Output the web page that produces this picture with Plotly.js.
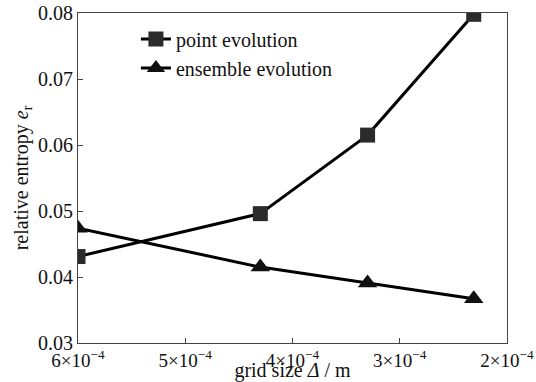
<!DOCTYPE html>
<html>
<head>
<meta charset="utf-8">
<script src="https://cdn.plot.ly/plotly-3.0.1.min.js"></script>
<style>
html,body{margin:0;padding:0;background:#fff;}
#chart{width:536px;height:382px;}
#preload{position:absolute;left:0;top:0;font-family:"Liberation Serif",serif;font-size:20px;color:#fff;opacity:0.01;pointer-events:none;}
</style>
</head>
<body>
<div id="preload">0123456789 point ensemble evolution ×−</div>
<div id="chart"></div>
<script>
const gridSize = [6.0e-4, 4.3e-4, 3.3e-4, 2.31e-4];
const pointEvolution = [0.0431, 0.0496, 0.0615, 0.0798];
const ensembleEvolution = [0.0474, 0.0415, 0.0391, 0.0367];
const xTickVals = [6e-4, 5e-4, 4e-4, 3e-4, 2e-4];
const xTickText = ['6×10<sup>−4</sup>', '5×10<sup>−4</sup>', '4×10<sup>−4</sup>', '3×10<sup>−4</sup>', '2×10<sup>−4</sup>'];
const yTickVals = [0.03, 0.04, 0.05, 0.06, 0.07, 0.08];
const yTickText = ['0.03', '0.04', '0.05', '0.06', '0.07', '0.08'];
const FAM = 'Liberation Serif, Times New Roman, serif';
const traces = [
  {x: gridSize, y: pointEvolution, name: 'point evolution', mode: 'lines+markers',
   line: {color: '#000', width: 3}, marker: {symbol: 'square', size: 15, color: '#2b2b2b'}},
  {x: gridSize, y: ensembleEvolution, name: 'ensemble evolution', mode: 'lines+markers',
   line: {color: '#000', width: 3}, marker: {symbol: 'triangle-up', size: 17, color: '#111'}}
];
const layout = {
  width: 536, height: 382, margin: {l: 78, r: 29, t: 13, b: 39},
  font: {family: FAM, color: '#111', size: 20}, showlegend: true,
  legend: {x: 0.135, y: 0.98, xanchor: 'left', yanchor: 'top', bgcolor: 'rgba(0,0,0,0)', font: {family: FAM, size: 20, color: '#111'}},
  xaxis: {range: [6e-4, 2e-4], tickmode: 'array', tickvals: xTickVals, ticktext: xTickText, ticks: 'inside', ticklen: 5,
    showline: true, mirror: true, linecolor: '#444', tickcolor: '#444', showgrid: false, zeroline: false,
    tickfont: {family: FAM, size: 19, color: '#111'}, title: {text: 'grid size <i>Δ</i> / m', font: {family: FAM, size: 20}}},
  yaxis: {range: [0.03, 0.08], tickmode: 'array', tickvals: yTickVals, ticktext: yTickText, ticks: 'inside', ticklen: 5,
    showline: true, mirror: true, linecolor: '#444', tickcolor: '#444', showgrid: false, zeroline: false,
    tickfont: {family: FAM, size: 20, color: '#111'}, title: {text: 'relative entropy <i>e</i><sub>r</sub>', font: {family: FAM, size: 20}}}
};
Plotly.newPlot('chart', traces, layout, {displayModeBar: false});
if (document.fonts && document.fonts.load) {
  document.fonts.load('20px "Liberation Serif"').then(() => {
    Plotly.react('chart', traces, layout, {displayModeBar: false});
  });
}
</script>
</body>
</html>
